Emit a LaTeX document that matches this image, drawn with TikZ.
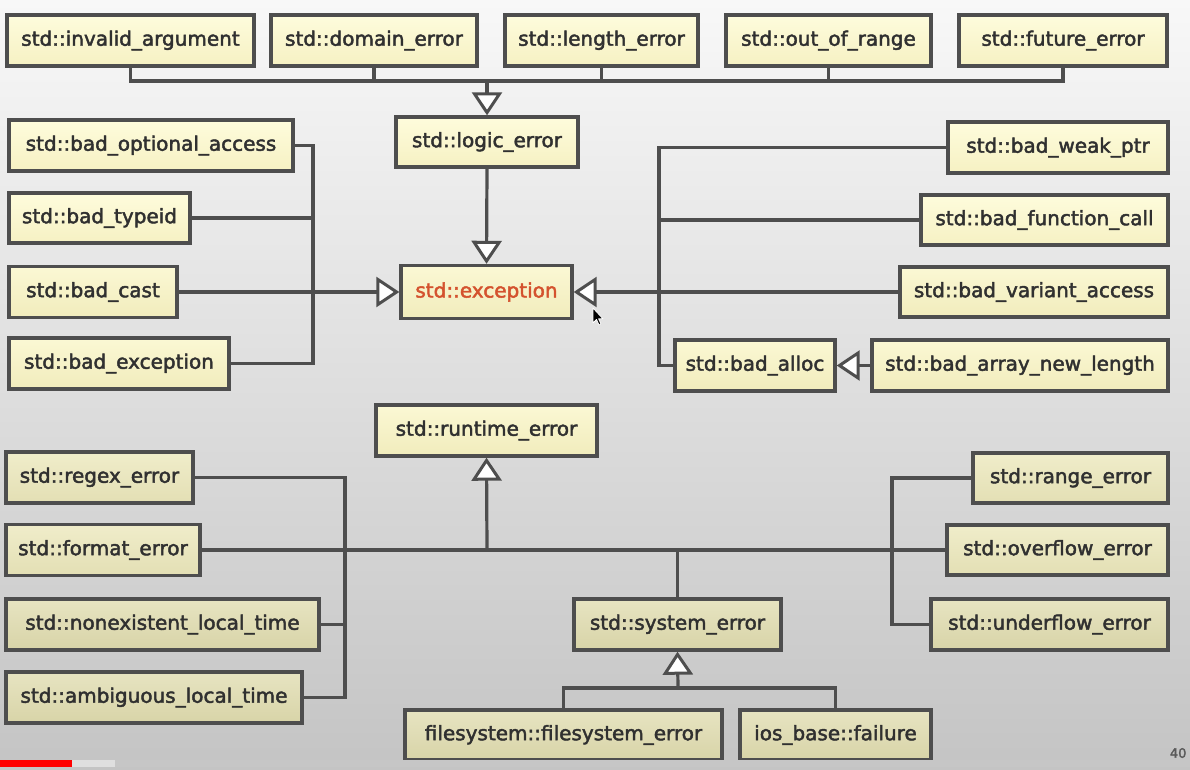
\documentclass[tikz,border=0pt]{standalone}
\usepackage{fontspec}
\newfontfamily\lbl{DejaVu Sans}[FakeBold=2.2]
\usetikzlibrary{arrows.meta,shadows,calc}
\definecolor{bgTop}{HTML}{F8F8F8}
\definecolor{bgBot}{HTML}{C4C4C4}
\definecolor{lc}{HTML}{4E4E4E}
\definecolor{tc}{HTML}{303030}
\definecolor{exred}{HTML}{D4522E}
\definecolor{aT}{HTML}{FEFCDC}\definecolor{aB}{HTML}{F6F1C3}
\definecolor{bT}{HTML}{FBF8D4}\definecolor{bB}{HTML}{F1ECBC}
\definecolor{cT}{HTML}{F0EDCA}\definecolor{cB}{HTML}{E3DFB4}
\definecolor{dT}{HTML}{E7E4C1}\definecolor{dB}{HTML}{D8D4A8}
\tikzset{
  box/.style={draw=lc, line width=3.4pt, text=tc, inner sep=0pt, minimum height=51,
    font=\lbl\fontsize{20}{22}\selectfont,
    drop shadow={shadow xshift=1.5pt, shadow yshift=-1.5pt, opacity=0.25, fill=black}},
  tA/.style={box, top color=aT, bottom color=aB},
  tB/.style={box, top color=bT, bottom color=bB},
  tC/.style={box, top color=cT, bottom color=cB},
  tD/.style={box, top color=dT, bottom color=dB},
  conn/.style={draw=lc, line width=3.2pt},
  inh/.style={conn, -{Triangle[fill=white, length=23pt, width=30pt, line width=3pt]}},
}
\begin{document}
\begin{tikzpicture}[x=1pt, y=-1pt]
\useasboundingbox (0,0) rectangle (1190,770);
\shade[top color=bgTop, bottom color=bgBot] (0,0) rectangle (1190,770);
% top row
\node[tA, minimum width=247] (ia)  at (130.5,40.5) {std::invalid\_argument};
\node[tA, minimum width=206] (de)  at (374,40.5)   {std::domain\_error};
\node[tA, minimum width=193] (le)  at (601.5,40.5) {std::length\_error};
\node[tA, minimum width=205] (oor) at (828.5,40.5) {std::out\_of\_range};
\node[tA, minimum width=208] (fe)  at (1063,40.5)  {std::future\_error};
% centre column
\node[tA, minimum width=182, minimum height=50] (lg) at (487,142) {std::logic\_error};
\node[tB, minimum width=171, minimum height=53, text=exred] (ex) at (486.5,292) {std::exception};
\node[tB, minimum width=221] (rt) at (486.5,430.5) {std::runtime\_error};
% left group
\node[tA, minimum width=284] (boa) at (151,145.5) {std::bad\_optional\_access};
\node[tA, minimum width=181, minimum height=50] (bt) at (99.5,218) {std::bad\_typeid};
\node[tB, minimum width=168] (bc) at (93,292) {std::bad\_cast};
\node[tB, minimum width=220] (be) at (119,363.5) {std::bad\_exception};
% right group
\node[tA, minimum width=220] (bwp) at (1058,147.5) {std::bad\_weak\_ptr};
\node[tA, minimum width=247, minimum height=50] (bfc) at (1044.5,220) {std::bad\_function\_call};
\node[tB, minimum width=268, minimum height=50] (bva) at (1034,292) {std::bad\_variant\_access};
\node[tB, minimum width=160] (ba) at (755,365.5) {std::bad\_alloc};
\node[tB, minimum width=296] (banl) at (1020,365.5) {std::bad\_array\_new\_length};
% bottom left
\node[tC, minimum width=187] (rgx) at (99.5,477.5) {std::regex\_error};
\node[tC, minimum width=194] (fm)  at (103,550)    {std::format\_error};
\node[tD, minimum width=313] (nlt) at (162.5,624.5) {std::nonexistent\_local\_time};
\node[tD, minimum width=296] (alt) at (154,697.5)  {std::ambiguous\_local\_time};
% bottom right
\node[tC, minimum width=195, minimum height=50] (rg) at (1070.5,478) {std::range\_error};
\node[tC, minimum width=221, minimum height=50] (of) at (1057.5,550) {std::overflow\_error};
\node[tD, minimum width=237] (uf) at (1049.5,624.5) {std::underflow\_error};
% system error
\node[tD, minimum width=207] (se)  at (677.5,624.5) {std::system\_error};
\node[tD, minimum width=317, minimum height=50] (fs)  at (563.5,735) {filesystem::filesystem\_error};
\node[tD, minimum width=191, minimum height=50] (ios) at (835.5,735) {ios\_base::failure};
% coordinates
\coordinate (busT) at (487,81);
\coordinate (lx) at (313,292);
\coordinate (rx) at (659,292);
\coordinate (busR) at (487,550);
\coordinate (lbx) at (345,550);
\coordinate (rbx) at (892,550);
\coordinate (busS) at (678,688);
% top connectors
\draw[conn] (ia.south) |- (busT) -| (fe.south);
\draw[conn] (de.south) -- (de.south |- busT);
\draw[conn] (le.south) -- (le.south |- busT);
\draw[conn] (oor.south) -- (oor.south |- busT);
\draw[inh] (busT) -- (lg.north);
\draw[inh] (lg.south) -- (ex.north);
% left group
\draw[conn] (boa.east) -| (lx);
\draw[conn] (be.east) -| (lx);
\draw[conn] (bt.east) -- (bt.east -| lx);
\draw[inh] (bc.east) -- (ex.west);
% right group
\draw[conn] (bwp.west) -| (rx);
\draw[conn] (ba.west) -| (rx);
\draw[conn] (bfc.west) -- (bfc.west -| rx);
\draw[inh] (bva.west) -- (ex.east);
\draw[inh] (banl.west) -- (ba.east);
% runtime
\draw[conn] (fm.east) -- (of.west);
\draw[inh] (busR) -- (rt.south);
\draw[conn] (rgx.east) -| (lbx);
\draw[conn] (alt.east) -| (lbx);
\draw[conn] (nlt.east) -- (nlt.east -| lbx);
\draw[conn] (rg.west) -| (rbx);
\draw[conn] (uf.west) -| (rbx);
\draw[conn] (se.north) -- (se.north |- busR);
% system error
\draw[conn] (fs.north) |- (busS) -| (ios.north);
\draw[inh] (busS) -- (se.south);
% page number, progress bar, cursor
\node[font=\lbl\fontsize{13}{14}\selectfont, text=tc!80, anchor=east] (pg) at (1190,753) {40};
\fill[gray!45] (0,760) rectangle (1190,767);
\fill[gray!25] (72,760) rectangle (115,767);
\fill[red] (0,760) rectangle (72,767);
\filldraw[fill=black, draw=white, line width=0.8pt, line join=round]
  (593,308) -- (593,323) -- (596.5,319.5) -- (599,325) -- (601,324) -- (598.6,318.8) -- (603,318.8) -- cycle;
\end{tikzpicture}
\end{document}
